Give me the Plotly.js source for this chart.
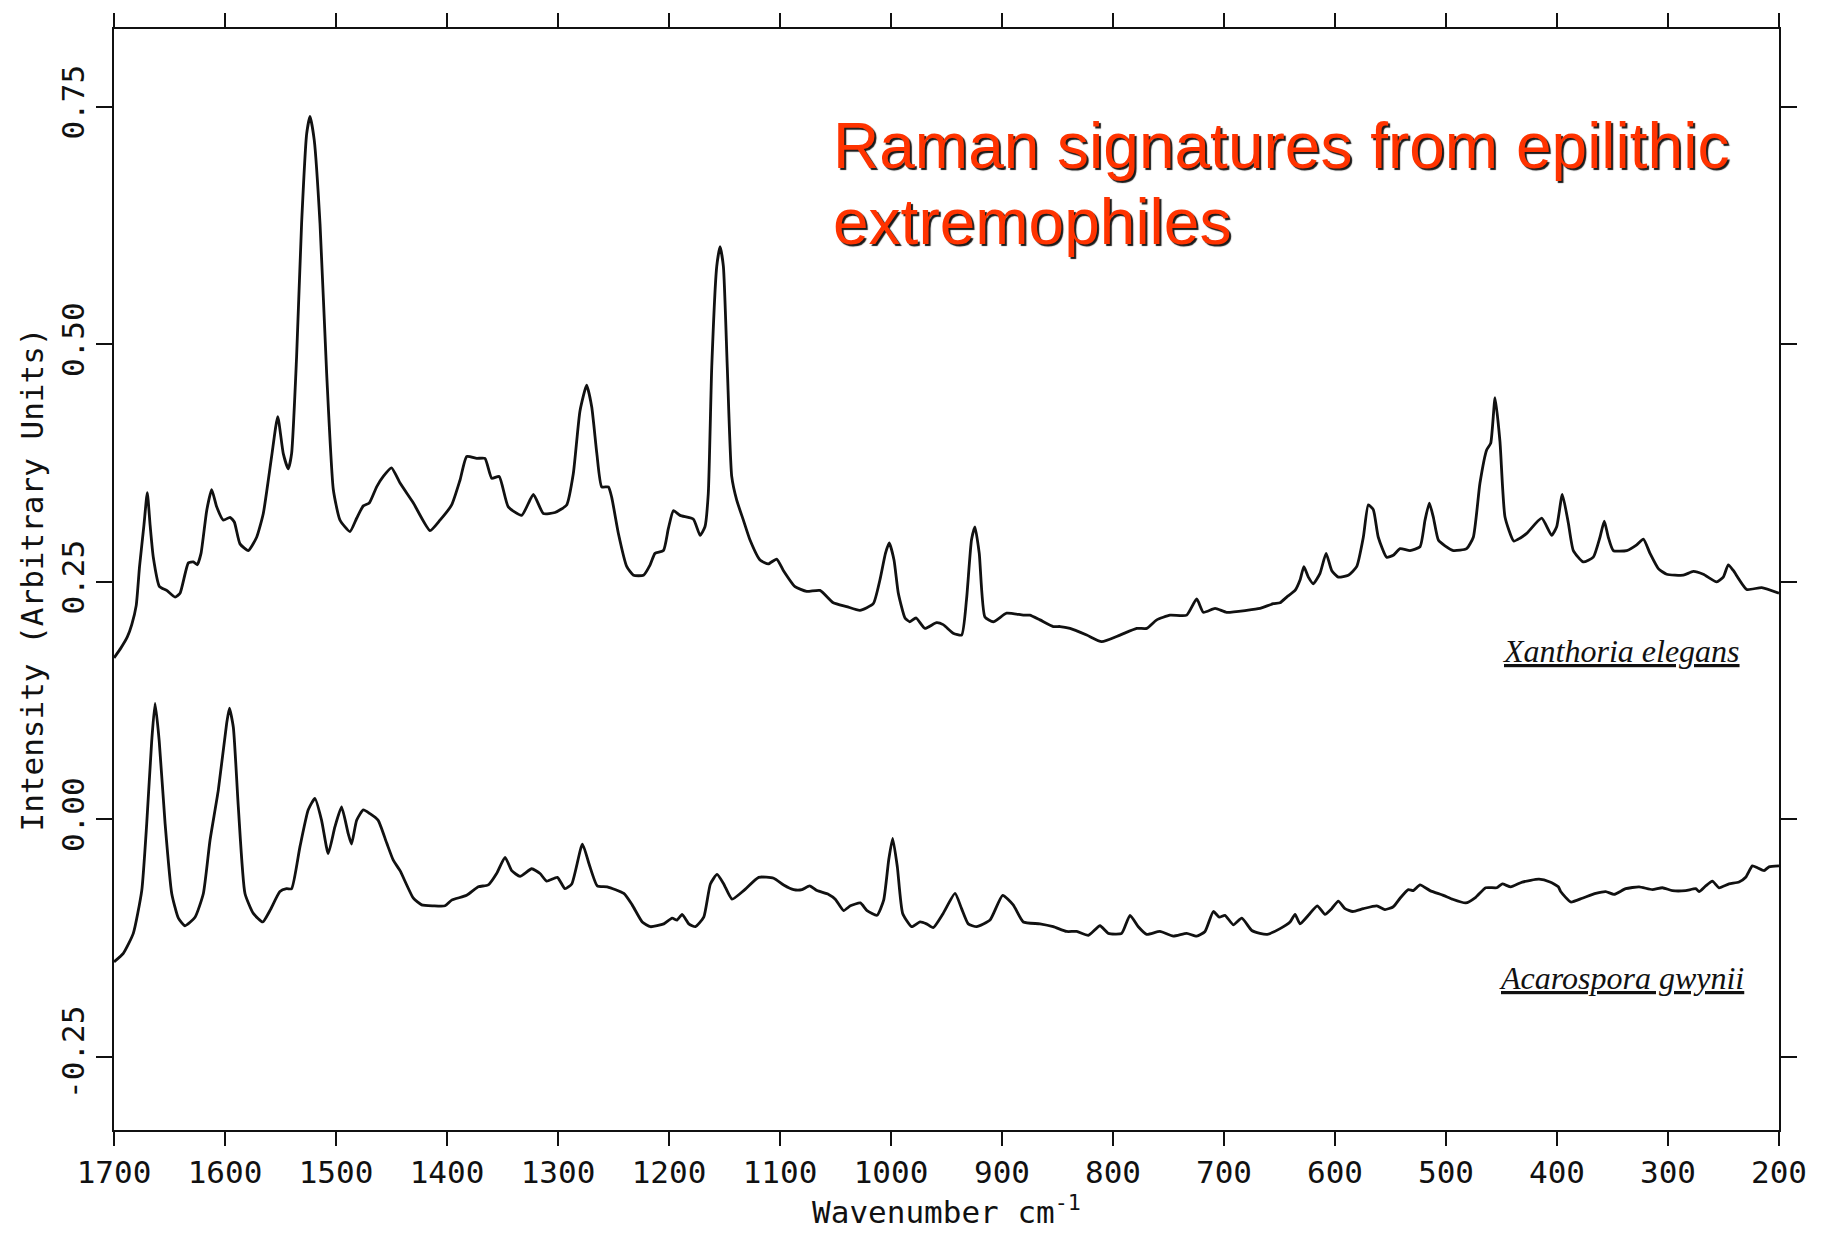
<!DOCTYPE html>
<html>
<head>
<meta charset="utf-8">
<script src="https://cdn.plot.ly/plotly-3.0.1.min.js"></script>
<style>
html, body { margin: 0; padding: 0; background: #ffffff; }
#chart { width: 1823px; height: 1233px; }
</style>
</head>
<body>
<div id="chart"></div>
<script>
// ---- Data (wavenumber cm^-1, intensity in arbitrary units) ----
const xanthoriaWavenumber = [1700, 1694, 1688, 1684, 1680, 1677, 1673, 1670, 1667.5, 1664.6, 1659, 1652.5, 1645, 1640.5, 1633, 1628.5, 1625, 1621.6, 1616.5, 1612, 1607.5, 1601.5, 1595.5, 1591.6, 1586.5, 1579, 1571.5, 1565.5, 1558, 1552.5, 1547.5, 1543, 1540, 1535.5, 1531, 1526.4, 1523.4, 1519.6, 1514.4, 1508.4, 1502.4, 1496.4, 1487.4, 1481.4, 1475.4, 1470, 1463.4, 1457.4, 1450, 1442.3, 1430.3, 1415.3, 1406.3, 1395.8, 1388.3, 1382.2, 1373.2, 1365.8, 1359.7, 1353, 1344.8, 1332.7, 1322.2, 1313.2, 1302.7, 1292.2, 1286.2, 1280.2, 1274.2, 1269.6, 1265, 1260.6, 1254.6, 1251.6, 1245.6, 1238, 1232, 1223, 1217, 1212.6, 1205, 1200.6, 1196, 1190, 1178, 1172, 1167.6, 1164.6, 1161.5, 1157, 1154, 1151, 1147.5, 1143.5, 1139, 1133, 1127, 1118, 1110.5, 1103, 1097, 1086.5, 1076, 1064, 1052, 1040, 1028, 1016, 1010, 1005, 1001.6, 997.3, 993.4, 987.4, 983, 977.5, 969.4, 959, 953, 944, 936.4, 932, 927.5, 924.4, 920.5, 915.4, 907.9, 895.8, 880.8, 875, 865.8, 853.8, 847.7, 838.7, 823.7, 810.2, 793.7, 778.6, 769.6, 760.6, 748.6, 733.6, 724.6, 718.6, 708, 697.6, 679.6, 667.6, 655.6, 649.5, 643.5, 636, 631.5, 628, 624, 619.5, 613.5, 608, 603, 597, 588, 580.5, 574.5, 570, 565.5, 561, 553.5, 547.5, 541.4, 532.4, 523.4, 518.9, 515, 511.4, 506.9, 500.9, 493.4, 481.4, 475.4, 469.4, 463.3, 459.7, 455.8, 451.4, 446.8, 439, 433.3, 427.3, 413.8, 404.8, 400.3, 395.2, 389.8, 385.3, 376.3, 367.3, 361.3, 357.4, 353.8, 349.3, 337.2, 328.2, 322.2, 316.2, 308.7, 301.2, 286.2, 277.2, 268.2, 256.2, 250.2, 245.7, 241.2, 229.1, 215.6, 200];
const xanthoriaIntensity = [0.170, 0.180, 0.192, 0.205, 0.225, 0.266, 0.310, 0.344, 0.310, 0.276, 0.245, 0.241, 0.234, 0.238, 0.270, 0.271, 0.268, 0.280, 0.325, 0.347, 0.329, 0.315, 0.318, 0.313, 0.290, 0.283, 0.297, 0.322, 0.382, 0.424, 0.385, 0.369, 0.385, 0.487, 0.627, 0.722, 0.740, 0.715, 0.627, 0.469, 0.347, 0.315, 0.303, 0.317, 0.330, 0.333, 0.350, 0.361, 0.370, 0.354, 0.333, 0.304, 0.315, 0.331, 0.357, 0.382, 0.380, 0.380, 0.359, 0.361, 0.329, 0.320, 0.342, 0.322, 0.323, 0.331, 0.364, 0.430, 0.457, 0.434, 0.385, 0.350, 0.350, 0.339, 0.301, 0.266, 0.257, 0.257, 0.268, 0.280, 0.283, 0.306, 0.325, 0.320, 0.316, 0.299, 0.308, 0.343, 0.476, 0.582, 0.603, 0.582, 0.476, 0.361, 0.336, 0.315, 0.294, 0.273, 0.269, 0.274, 0.262, 0.245, 0.240, 0.241, 0.228, 0.224, 0.220, 0.227, 0.252, 0.280, 0.291, 0.273, 0.238, 0.212, 0.208, 0.212, 0.201, 0.207, 0.205, 0.196, 0.194, 0.231, 0.294, 0.308, 0.280, 0.213, 0.208, 0.217, 0.215, 0.215, 0.210, 0.203, 0.203, 0.201, 0.194, 0.187, 0.194, 0.201, 0.201, 0.210, 0.215, 0.215, 0.232, 0.218, 0.222, 0.218, 0.220, 0.222, 0.227, 0.228, 0.234, 0.241, 0.252, 0.266, 0.255, 0.248, 0.259, 0.280, 0.262, 0.255, 0.257, 0.266, 0.297, 0.331, 0.326, 0.297, 0.276, 0.278, 0.285, 0.283, 0.287, 0.315, 0.333, 0.318, 0.294, 0.288, 0.283, 0.285, 0.297, 0.354, 0.389, 0.396, 0.444, 0.398, 0.318, 0.293, 0.296, 0.301, 0.317, 0.299, 0.308, 0.342, 0.312, 0.283, 0.271, 0.276, 0.297, 0.314, 0.297, 0.283, 0.283, 0.289, 0.295, 0.280, 0.264, 0.258, 0.257, 0.261, 0.258, 0.250, 0.255, 0.268, 0.262, 0.242, 0.244, 0.238];

const acarosporaWavenumber = [1700, 1691.6, 1682.6, 1675, 1670.5, 1666, 1663, 1659.3, 1654, 1648, 1642, 1636, 1627, 1619.5, 1613.5, 1606, 1598.5, 1596, 1592.5, 1588, 1582, 1574.5, 1566, 1559.5, 1550.5, 1544.5, 1540, 1532.5, 1525, 1519, 1513, 1507, 1501, 1495, 1489, 1486, 1481.4, 1475.4, 1469.4, 1462, 1454.3, 1448.4, 1442.3, 1430.3, 1422.8, 1412.3, 1401.8, 1395.8, 1382.3, 1371.8, 1362.8, 1355.3, 1347.7, 1341.7, 1334.2, 1323.7, 1316.2, 1310.2, 1300.6, 1293.7, 1287.6, 1278, 1272, 1264.6, 1255.6, 1240.7, 1233.2, 1224.1, 1216.7, 1204.7, 1197.2, 1192.7, 1188.2, 1182.2, 1176.2, 1168.7, 1162.7, 1156.7, 1150.7, 1143.2, 1132.7, 1119.2, 1105.7, 1096.7, 1087.7, 1080.2, 1073.3, 1066.7, 1056.2, 1050.2, 1042.7, 1036.6, 1027.6, 1021.6, 1012.6, 1006.6, 1002.1, 998.5, 994.3, 989.5, 981.4, 973.9, 968, 962, 953, 942.3, 936.4, 930.4, 922.8, 910.8, 899.4, 889.9, 880.8, 865.8, 853.8, 841.8, 832.7, 822.2, 811.7, 804.2, 792.2, 784.7, 777.2, 769.7, 757.7, 745.7, 733.6, 724.6, 717.1, 709.6, 704.2, 699.1, 691.6, 684, 675, 667.6, 661, 649.5, 640.5, 636, 631.5, 624, 616, 609, 603, 597, 591, 584, 574.5, 562.4, 555, 547.5, 541.4, 533.9, 529.4, 523.4, 514.4, 502.4, 494.3, 482.3, 473.2, 464.2, 454.3, 449.3, 441.7, 431.3, 416.2, 406.3, 398.8, 396.7, 387.6, 377.2, 365.1, 356.1, 348.6, 338.1, 326.1, 314.1, 305.1, 296.1, 284.1, 275, 272, 266, 260, 254, 245, 236, 230, 224, 219.5, 213.5, 209, 200];
const acarosporaIntensity = [-0.150, -0.141, -0.120, -0.075, -0.004, 0.083, 0.122, 0.083, -0.004, -0.078, -0.104, -0.112, -0.103, -0.078, -0.022, 0.031, 0.101, 0.117, 0.097, 0.013, -0.078, -0.099, -0.108, -0.096, -0.076, -0.073, -0.073, -0.029, 0.010, 0.022, -0.001, -0.036, -0.008, 0.013, -0.015, -0.026, -0.001, 0.010, 0.006, -0.001, -0.025, -0.043, -0.054, -0.083, -0.090, -0.091, -0.091, -0.085, -0.080, -0.071, -0.069, -0.057, -0.040, -0.054, -0.060, -0.052, -0.057, -0.065, -0.061, -0.073, -0.068, -0.026, -0.047, -0.070, -0.071, -0.078, -0.090, -0.108, -0.113, -0.110, -0.104, -0.106, -0.100, -0.110, -0.113, -0.103, -0.068, -0.058, -0.068, -0.084, -0.075, -0.061, -0.062, -0.069, -0.074, -0.074, -0.070, -0.075, -0.079, -0.084, -0.096, -0.091, -0.088, -0.096, -0.101, -0.085, -0.043, -0.020, -0.050, -0.099, -0.113, -0.108, -0.110, -0.114, -0.099, -0.078, -0.094, -0.110, -0.113, -0.106, -0.080, -0.090, -0.108, -0.110, -0.113, -0.118, -0.118, -0.122, -0.112, -0.120, -0.120, -0.101, -0.113, -0.121, -0.118, -0.123, -0.120, -0.123, -0.118, -0.097, -0.103, -0.101, -0.111, -0.104, -0.117, -0.120, -0.121, -0.115, -0.108, -0.100, -0.110, -0.101, -0.091, -0.100, -0.094, -0.086, -0.094, -0.097, -0.094, -0.091, -0.095, -0.092, -0.083, -0.074, -0.075, -0.069, -0.075, -0.080, -0.084, -0.088, -0.082, -0.072, -0.072, -0.068, -0.071, -0.066, -0.063, -0.066, -0.071, -0.076, -0.087, -0.083, -0.078, -0.076, -0.079, -0.073, -0.071, -0.074, -0.072, -0.075, -0.075, -0.073, -0.076, -0.070, -0.065, -0.072, -0.068, -0.066, -0.061, -0.049, -0.051, -0.054, -0.050, -0.049];

const xTickValues = [1700, 1600, 1500, 1400, 1300, 1200, 1100, 1000, 900, 800, 700, 600, 500, 400, 300, 200];
const yTickValues = [-0.25, 0, 0.25, 0.5, 0.75];
const yTickLabels = ["-0.25", "0.00", "0.25", "0.50", "0.75"];

const chartTitleLines = ["Raman signatures from epilithic", "extremophiles"];
const seriesNames = ["Xanthoria elegans", "Acarospora gwynii"];

// ---- Styling ----
const plotterFont = { family: "DejaVu Sans Mono, Liberation Mono, monospace", size: 31, color: "#111111" };
const lineStyle = { color: "#111111", width: 2.8, shape: "spline", smoothing: 0.5 };
const titleFont = { family: "Liberation Sans, Arial, sans-serif", size: 64, color: "#ff3300", shadow: "2px 2px 1px #1a1a1a" };
const labelFont = { family: "Liberation Serif, Times New Roman, serif", size: 32, color: "#111111" };

const traces = [
  { type: "scatter", mode: "lines", name: seriesNames[0], x: xanthoriaWavenumber, y: xanthoriaIntensity, line: lineStyle, hoverinfo: "skip" },
  { type: "scatter", mode: "lines", name: seriesNames[1], x: acarosporaWavenumber, y: acarosporaIntensity, line: lineStyle, hoverinfo: "skip" }
];

const axisCommon = {
  showline: true, linecolor: "#111111", linewidth: 2,
  mirror: "ticks", ticks: "outside", tickcolor: "#111111", tickwidth: 2,
  showgrid: false, zeroline: false, automargin: false, tickfont: plotterFont
};

const layout = {
  width: 1823, height: 1233,
  margin: { l: 114, r: 44, t: 29, b: 103, pad: 0 },
  paper_bgcolor: "#ffffff", plot_bgcolor: "#ffffff",
  showlegend: false,
  xaxis: Object.assign({}, axisCommon, {
    range: [1700, 200], tickvals: xTickValues, ticklen: 14,
    title: { text: "Wavenumber cm<sup>-1</sup>", font: plotterFont, standoff: 6 }
  }),
  yaxis: Object.assign({}, axisCommon, {
    range: [-0.327, 0.832], tickvals: yTickValues, ticktext: yTickLabels, ticklen: 16, tickangle: -90,
    title: { text: "Intensity (Arbitrary Units)", font: plotterFont, standoff: 2 }
  }),
  annotations: [
    { xref: "paper", yref: "paper", x: 0.4306, y: 0.8935, xanchor: "left", yanchor: "middle", showarrow: false,
      text: chartTitleLines[0], font: titleFont },
    { xref: "paper", yref: "paper", x: 0.4306, y: 0.8250, xanchor: "left", yanchor: "middle", showarrow: false,
      text: chartTitleLines[1], font: titleFont },
    { xref: "paper", yref: "paper", x: 0.9054, y: 0.4355, xanchor: "center", yanchor: "middle", showarrow: false,
      text: "<u><i>" + seriesNames[0] + "</i></u>", font: labelFont },
    { xref: "paper", yref: "paper", x: 0.9055, y: 0.1385, xanchor: "center", yanchor: "middle", showarrow: false,
      text: "<u><i>" + seriesNames[1] + "</i></u>", font: labelFont }
  ]
};

Plotly.newPlot("chart", traces, layout, { staticPlot: true, displayModeBar: false });
</script>
</body>
</html>
